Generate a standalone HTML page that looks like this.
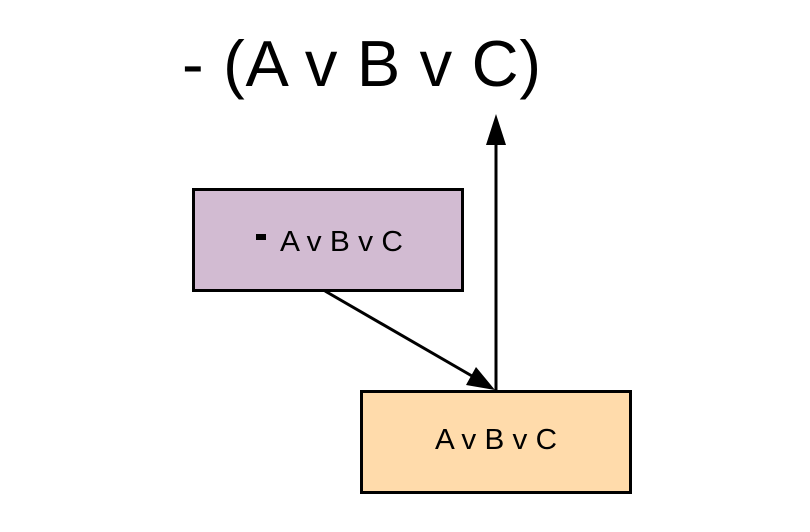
<!DOCTYPE html>
<html><head><style>
html,body{margin:0;padding:0;background:#fff;}
svg{display:block;}
</style></head><body>
<svg width="810" height="532" xmlns="http://www.w3.org/2000/svg">
<text x="182" y="86" font-family="Liberation Sans, sans-serif" font-size="65" textLength="359" lengthAdjust="spacing" fill="#000">- (A v B v C)</text>
<rect x="193.5" y="189.5" width="269" height="101" fill="#d2bbd2" stroke="#000" stroke-width="3"/>
<rect x="256" y="234" width="10" height="6" fill="#000"/>
<text x="280" y="251" font-family="Liberation Sans, sans-serif" font-size="29" textLength="123" lengthAdjust="spacingAndGlyphs" fill="#000">A v B v C</text>
<rect x="361.5" y="391.5" width="269" height="101" fill="#ffdbab" stroke="#000" stroke-width="3"/>
<text x="435" y="449" font-family="Liberation Sans, sans-serif" font-size="29" textLength="122" lengthAdjust="spacingAndGlyphs" fill="#000">A v B v C</text>
<line x1="496" y1="391" x2="496" y2="140" stroke="#000" stroke-width="3"/>
<polygon points="496,114 486,145 506,145" fill="#000"/>
<line x1="325" y1="291" x2="472" y2="376" stroke="#000" stroke-width="3"/>
<polygon points="495,390 466,385 476,367" fill="#000"/>
</svg>
</body></html>
